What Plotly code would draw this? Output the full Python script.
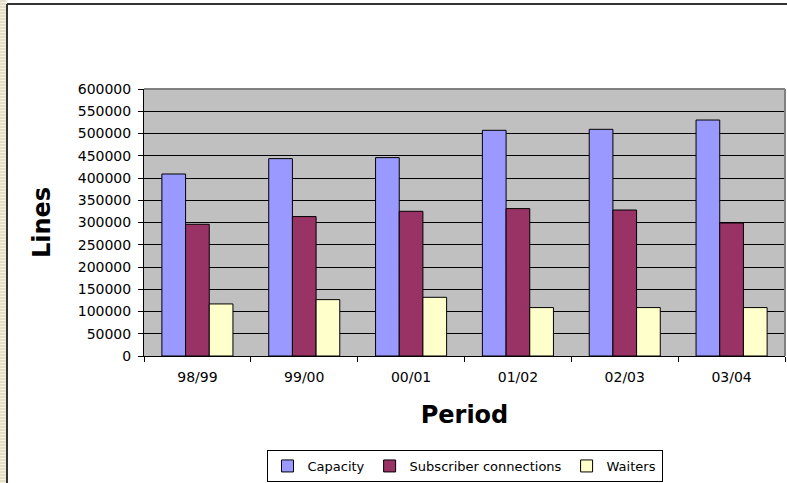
import plotly.graph_objects as go

periods = ["98/99", "99/00", "00/01", "01/02", "02/03", "03/04"]
capacity = [409000, 443500, 445800, 507200, 509400, 530300]
subscriber = [296000, 313300, 325200, 331200, 328100, 298900]
waiters = [117000, 126700, 131900, 108800, 108800, 108800]

series = [
    ("Capacity", capacity, "#9999FF"),
    ("Subscriber connections", subscriber, "#993366"),
    ("Waiters", waiters, "#FFFFCC"),
]

FONT = "DejaVu Sans, Arial, sans-serif"

fig = go.Figure()
for name, vals, col in series:
    fig.add_trace(go.Bar(x=periods, y=vals, name=name,
                         marker=dict(color=col, line=dict(color="black", width=1))))

W, H = 787, 483
L, R, T, B = 144, 2, 89, 127
pw = W - L - R
ph = H - T - B

shapes = []
# left striped strip
shapes.append(dict(type="rect", xref="paper", yref="paper",
                   x0=-L / pw, x1=(7 - L) / pw, y0=-B / ph, y1=1 + T / ph,
                   fillcolor="#f4f2e4", line=dict(width=0), layer="below"))
for yy in range(1, H, 3):
    yp = (H - B - yy) / ph
    shapes.append(dict(type="line", xref="paper", yref="paper",
                       x0=-L / pw, x1=(6 - L) / pw, y0=yp, y1=yp,
                       line=dict(color="#d2cda8", width=1)))
# outer frame (top and left)
shapes.append(dict(type="line", xref="paper", yref="paper",
                   x0=(7 - L) / pw, x1=1 + R / pw, y0=(H - B - 4) / ph, y1=(H - B - 4) / ph,
                   line=dict(color="#333333", width=2)))
shapes.append(dict(type="line", xref="paper", yref="paper",
                   x0=(7 - L) / pw, x1=(7 - L) / pw, y0=-B / ph, y1=(H - B - 4) / ph,
                   line=dict(color="#333333", width=2)))
# plot area grey border top/right
shapes.append(dict(type="line", xref="paper", yref="paper", x0=0, x1=1, y0=1, y1=1,
                   line=dict(color="#808080", width=2)))
shapes.append(dict(type="line", xref="paper", yref="paper", x0=1, x1=1, y0=0, y1=1,
                   line=dict(color="#808080", width=2)))

fig.update_layout(
    width=W, height=H,
    margin=dict(l=L, r=R, t=T, b=B, autoexpand=False),
    paper_bgcolor="white",
    plot_bgcolor="#C0C0C0",
    font=dict(family=FONT, size=14, color="black"),
    barmode="group",
    bargap=0.335,
    bargroupgap=0,
    showlegend=True,
    legend=dict(orientation="h", x=0.5, xanchor="center", y=-94 / ph, yanchor="top",
                bordercolor="black", borderwidth=1, bgcolor="white",
                font=dict(size=13), itemwidth=30, tracegroupgap=0,
                itemclick=False),
    shapes=shapes,
)
fig.update_xaxes(
    automargin=False,
    showline=True, linecolor="black", linewidth=1,
    ticks="outside", ticklen=5, tickcolor="black", tickson="boundaries",
    ticklabelstandoff=8,
    showgrid=False,
    title=dict(text="<b>Period</b>", font=dict(size=24), standoff=22),
    tickfont=dict(size=14),
)
fig.update_yaxes(
    automargin=False,
    range=[0, 600000], dtick=50000, tickformat="d",
    showline=True, linecolor="black", linewidth=1,
    ticks="outside", ticklen=5, tickcolor="black",
    ticklabelstandoff=4,
    showgrid=True, gridcolor="black", gridwidth=1,
    zeroline=False,
    title=dict(text="<b>Lines</b>", font=dict(size=24), standoff=20),
    tickfont=dict(size=14),
)
fig.write_html("out.html", config={"displayModeBar": False},
               post_script="document.body.style.margin='0';document.body.style.overflow='hidden';")
